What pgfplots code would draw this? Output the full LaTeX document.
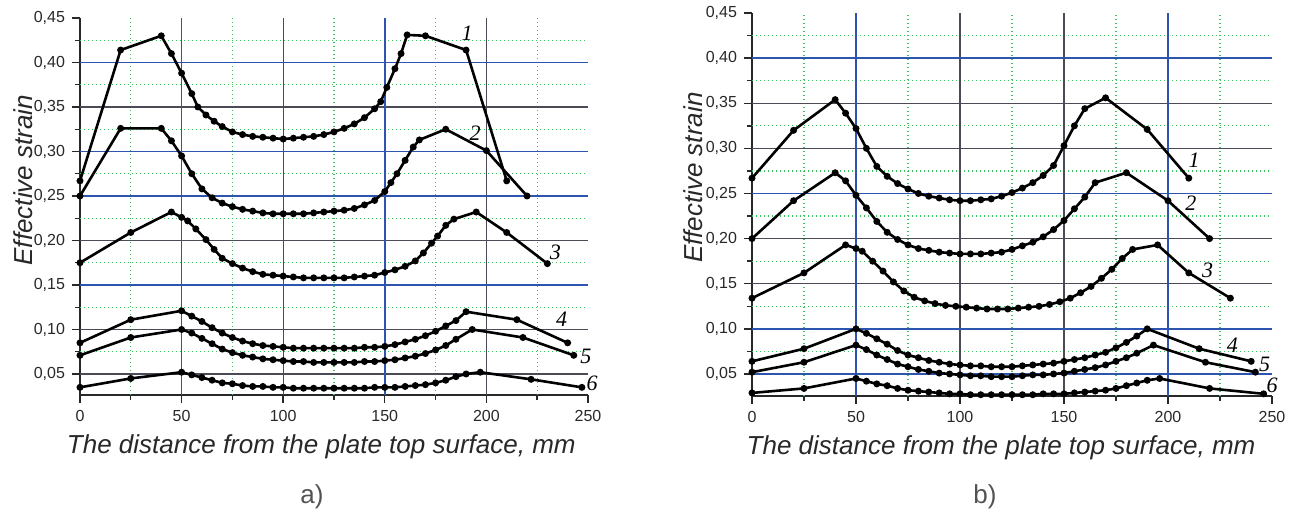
\documentclass[border=0pt]{standalone}
\usepackage{fontspec}
\setmainfont{Liberation Sans}
\newfontfamily\numfont{Liberation Serif}
\usepackage{pgfplots}
\pgfplotsset{compat=1.18}

\definecolor{gblue}{RGB}{45,85,175}
\definecolor{ggray}{RGB}{75,75,85}
\definecolor{ggreen}{RGB}{60,195,95}
\definecolor{txt}{RGB}{40,40,40}

\tikzset{
  gb/.style={gblue, line width=0.9pt},
  gg/.style={ggray, line width=0.55pt},
  gm/.style={ggreen, line width=0.6pt, dash pattern=on 0.7pt off 1.3pt},
  lbl/.style={font=\numfont\itshape\fontsize{11}{12}\selectfont, text=black, inner sep=0pt},
}

\pgfplotsset{
  panel/.style={
    scale only axis, clip=false,
    xmin=0, xmax=250, ymax=0.45,
    axis lines*=left,
    axis line style={line width=0.9pt, txt},
    xtick={0,50,100,150,200,250},
    ytick={0.05,0.1,0.15,0.2,0.25,0.3,0.35,0.4,0.45},
    minor x tick num=1, minor y tick num=1,
    tick align=outside,
    major tick length=4pt, minor tick length=2.5pt,
    every tick/.style={line width=0.7pt, txt},
    /pgf/number format/assume math mode=true,
    ticklabel style={font=\fontsize{8}{9}\selectfont, text=txt},
    yticklabel style={/pgf/number format/.cd, fixed, fixed zerofill, precision=2, use comma},
    xlabel={The distance from the plate top surface, mm},
    ylabel={Effective strain},
    label style={font=\itshape\fontsize{13}{14}\selectfont, text=txt},
    xlabel style={at={(axis description cs:0.475,0)}, anchor=center, yshift=-26pt},
    ylabel style={at={(axis description cs:-0.112,0.57)}, anchor=center},
  },
  crv/.style={black, line width=1.3pt, mark=*, mark size=1.05pt, mark options={solid}},
}

\begin{document}
\begin{tikzpicture}
\path[use as bounding box] (0pt,0pt) rectangle (649pt,259pt);

% ---------------- panel a)
\begin{axis}[panel, at={(40pt,61.5pt)}, anchor=south west,
  width=254pt, height=188.5pt, ymin=0.0264]
\pgfplotsinvokeforeach{25,75,125,175,225}{\draw[gm] (axis cs:#1,0.0264) -- (axis cs:#1,0.45);}
\pgfplotsinvokeforeach{0.075,0.125,0.175,0.225,0.275,0.325,0.375,0.425}{\draw[gm] (axis cs:0,#1) -- (axis cs:250,#1);}
\pgfplotsinvokeforeach{0.05,0.1,0.2,0.35}{\draw[gg] (axis cs:0,#1) -- (axis cs:250,#1);}
\pgfplotsinvokeforeach{100,200}{\draw[gg] (axis cs:#1,0.0264) -- (axis cs:#1,0.45);}
\pgfplotsinvokeforeach{0.15,0.25,0.3,0.4}{\draw[gb] (axis cs:0,#1) -- (axis cs:250,#1);}
\pgfplotsinvokeforeach{50,150}{\draw[gb] (axis cs:#1,0.0264) -- (axis cs:#1,0.45);}

% curve 1
\addplot[crv] coordinates {(0,0.267)(20,0.414)(40,0.430)(45,0.410)(50,0.388)(55,0.365)(58,0.350)(62,0.341)(66,0.334)(70,0.328)(75,0.322)(80,0.319)(85,0.317)(90,0.316)(95,0.315)(100,0.314)(105,0.315)(110,0.316)(115,0.317)(120,0.319)(125,0.322)(130,0.326)(135,0.331)(140,0.338)(145,0.348)(148,0.356)(151,0.372)(155,0.393)(158,0.410)(161,0.431)(170,0.430)(190,0.414)(210,0.267)};
% curve 2
\addplot[crv] coordinates {(0,0.250)(20,0.326)(40,0.326)(45,0.312)(50,0.295)(55,0.275)(60,0.258)(65,0.248)(70,0.242)(75,0.238)(80,0.235)(85,0.233)(90,0.231)(95,0.230)(100,0.230)(105,0.230)(110,0.230)(115,0.231)(120,0.232)(125,0.233)(130,0.234)(135,0.236)(140,0.240)(145,0.245)(150,0.255)(153,0.265)(156,0.275)(160,0.290)(164,0.305)(167,0.313)(180,0.325)(200,0.301)(220,0.250)};
% curve 3
\addplot[crv] coordinates {(0,0.175)(25,0.209)(45,0.232)(50,0.226)(53,0.222)(57,0.213)(62,0.201)(66,0.190)(70,0.180)(75,0.174)(80,0.169)(85,0.165)(90,0.162)(95,0.161)(100,0.160)(105,0.159)(110,0.158)(115,0.158)(120,0.158)(125,0.158)(130,0.158)(135,0.159)(140,0.160)(145,0.161)(150,0.164)(155,0.167)(160,0.171)(165,0.177)(169,0.186)(173,0.197)(176,0.205)(180,0.217)(184,0.224)(195,0.232)(210,0.209)(230,0.174)};
% curve 4
\addplot[crv] coordinates {(0,0.085)(25,0.111)(50,0.121)(55,0.115)(60,0.109)(65,0.102)(70,0.096)(75,0.091)(80,0.087)(85,0.084)(90,0.082)(95,0.081)(100,0.080)(105,0.079)(110,0.079)(115,0.079)(120,0.079)(125,0.079)(130,0.079)(135,0.079)(140,0.080)(145,0.080)(150,0.081)(155,0.083)(160,0.086)(165,0.089)(170,0.093)(175,0.098)(180,0.104)(185,0.110)(190,0.120)(215,0.111)(240,0.085)};
% curve 5
\addplot[crv] coordinates {(0,0.071)(25,0.091)(50,0.100)(55,0.096)(60,0.090)(65,0.084)(70,0.078)(75,0.074)(80,0.071)(85,0.069)(90,0.067)(95,0.066)(100,0.065)(105,0.064)(110,0.064)(115,0.063)(120,0.063)(125,0.063)(130,0.063)(135,0.063)(140,0.064)(145,0.064)(150,0.065)(155,0.066)(160,0.068)(165,0.070)(170,0.073)(175,0.077)(180,0.082)(185,0.089)(193,0.100)(218,0.091)(243,0.071)};
% curve 6
\addplot[crv] coordinates {(0,0.035)(25,0.045)(50,0.052)(55,0.049)(60,0.046)(65,0.043)(70,0.040)(75,0.039)(80,0.037)(85,0.036)(90,0.036)(95,0.035)(100,0.035)(105,0.034)(110,0.034)(115,0.034)(120,0.034)(125,0.034)(130,0.034)(135,0.034)(140,0.034)(145,0.035)(150,0.035)(155,0.035)(160,0.036)(165,0.037)(170,0.038)(175,0.040)(180,0.043)(185,0.047)(190,0.050)(197,0.052)(222,0.044)(247,0.035)};

\node[lbl] at (axis cs:190.5,0.433) {1};
\node[lbl] at (axis cs:194.5,0.321) {2};
\node[lbl] at (axis cs:234,0.187) {3};
\node[lbl] at (axis cs:237,0.112) {4};
\node[lbl] at (axis cs:249,0.070) {5};
\node[lbl] at (axis cs:252,0.040) {6};
\end{axis}

% ---------------- panel b)
\begin{axis}[panel, at={(376pt,61pt)}, anchor=south west,
  width=260pt, height=191.5pt, ymin=0.0256,
  xlabel style={at={(axis description cs:0.479,0)}},
  ylabel style={at={(axis description cs:-0.113,0.57)}}]
\pgfplotsinvokeforeach{25,75,125,175,225}{\draw[gm] (axis cs:#1,0.0256) -- (axis cs:#1,0.45);}
\pgfplotsinvokeforeach{0.075,0.125,0.175,0.225,0.275,0.325,0.375,0.425}{\draw[gm] (axis cs:0,#1) -- (axis cs:250,#1);}
\pgfplotsinvokeforeach{0.15,0.2,0.3,0.35}{\draw[gg] (axis cs:0,#1) -- (axis cs:250,#1);}
\pgfplotsinvokeforeach{100,150}{\draw[gg] (axis cs:#1,0.0256) -- (axis cs:#1,0.45);}
\pgfplotsinvokeforeach{0.05,0.1,0.25,0.4}{\draw[gb] (axis cs:0,#1) -- (axis cs:250,#1);}
\pgfplotsinvokeforeach{50,200}{\draw[gb] (axis cs:#1,0.0256) -- (axis cs:#1,0.45);}

% curve 1
\addplot[crv] coordinates {(0,0.267)(20,0.320)(40,0.354)(45,0.339)(50,0.322)(55,0.300)(60,0.280)(65,0.269)(70,0.261)(75,0.255)(80,0.250)(85,0.247)(90,0.245)(95,0.243)(100,0.242)(105,0.242)(110,0.243)(115,0.244)(120,0.247)(125,0.251)(130,0.256)(135,0.262)(140,0.270)(145,0.281)(150,0.303)(155,0.325)(160,0.344)(170,0.356)(190,0.321)(210,0.267)};
% curve 2
\addplot[crv] coordinates {(0,0.200)(20,0.242)(40,0.273)(45,0.264)(50,0.248)(55,0.234)(60,0.219)(65,0.207)(70,0.199)(75,0.193)(80,0.189)(85,0.187)(90,0.185)(95,0.184)(100,0.183)(105,0.183)(110,0.183)(115,0.184)(120,0.185)(125,0.188)(130,0.192)(135,0.196)(140,0.202)(145,0.210)(150,0.220)(155,0.233)(160,0.246)(165,0.262)(180,0.273)(200,0.242)(220,0.200)};
% curve 3
\addplot[crv] coordinates {(0,0.134)(25,0.162)(45,0.193)(50,0.189)(53,0.186)(58,0.175)(63,0.164)(68,0.152)(73,0.142)(78,0.135)(83,0.131)(88,0.128)(93,0.126)(98,0.125)(103,0.124)(108,0.123)(113,0.122)(118,0.122)(123,0.122)(128,0.123)(133,0.124)(138,0.125)(143,0.127)(148,0.130)(153,0.134)(158,0.140)(163,0.147)(168,0.156)(173,0.166)(178,0.178)(183,0.188)(195,0.193)(210,0.162)(230,0.134)};
% curve 4
\addplot[crv] coordinates {(0,0.064)(25,0.078)(50,0.100)(55,0.095)(60,0.089)(65,0.083)(70,0.076)(75,0.071)(80,0.068)(85,0.065)(90,0.063)(95,0.061)(100,0.060)(105,0.059)(110,0.059)(115,0.058)(120,0.058)(125,0.058)(130,0.059)(135,0.060)(140,0.061)(145,0.062)(150,0.064)(155,0.066)(160,0.068)(165,0.071)(170,0.074)(175,0.079)(180,0.085)(185,0.092)(190,0.100)(215,0.078)(240,0.064)};
% curve 5
\addplot[crv] coordinates {(0,0.052)(25,0.063)(50,0.082)(55,0.077)(60,0.071)(65,0.066)(70,0.061)(75,0.058)(80,0.055)(85,0.053)(90,0.051)(95,0.050)(100,0.049)(105,0.048)(110,0.048)(115,0.047)(120,0.047)(125,0.047)(130,0.048)(135,0.049)(140,0.049)(145,0.050)(150,0.051)(155,0.053)(160,0.055)(165,0.057)(170,0.060)(175,0.064)(180,0.068)(185,0.073)(193,0.082)(218,0.063)(242,0.052)};
% curve 6
\addplot[crv] coordinates {(0,0.029)(25,0.034)(50,0.045)(55,0.042)(60,0.039)(65,0.037)(70,0.034)(75,0.032)(80,0.031)(85,0.030)(90,0.029)(95,0.028)(100,0.028)(105,0.027)(110,0.027)(115,0.027)(120,0.027)(125,0.027)(130,0.027)(135,0.027)(140,0.028)(145,0.028)(150,0.028)(155,0.029)(160,0.030)(165,0.031)(170,0.032)(175,0.034)(180,0.037)(185,0.040)(190,0.043)(196,0.045)(220,0.034)(246,0.028)};

\node[lbl] at (axis cs:212.5,0.287) {1};
\node[lbl] at (axis cs:211,0.239) {2};
\node[lbl] at (axis cs:219,0.165) {3};
\node[lbl] at (axis cs:231,0.082) {4};
\node[lbl] at (axis cs:246.5,0.061) {5};
\node[lbl] at (axis cs:250,0.037) {6};
\end{axis}

\node[font=\fontsize{13}{14}\selectfont, text=txt!80] at (156pt,10.5pt) {a)};
\node[font=\fontsize{13}{14}\selectfont, text=txt!80] at (492.5pt,10.5pt) {b)};
\end{tikzpicture}
\end{document}
